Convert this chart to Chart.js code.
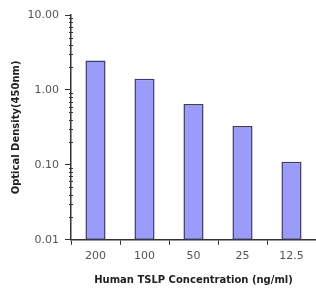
<!DOCTYPE html>
<html>
<head>
<meta charset="utf-8">
<script src="https://cdn.jsdelivr.net/npm/chart.js@4"></script>
<style>
  html, body { margin: 0; padding: 0; background: #fff; }
  #wrap { width: 316px; height: 289px; }
</style>
</head>
<body>
<div id="wrap"><canvas id="myChart" width="316" height="289"></canvas></div>
<script>
// datos
const concentraciones = ["200", "100", "50", "25", "12.5"];
const densidad = [2.47, 1.41, 0.65, 0.33, 0.11];
const ticksMayores = [0.01, 0.1, 1, 10];
const yMin = 0.01;
const yMax = 10;

// marcas menores del eje logarítmico (2..9 en cada década)
const marcasMenores = {
  id: "marcasMenores",
  afterDraw(chart) {
    const y = chart.scales.y;
    const c = chart.ctx;
    c.save();
    c.strokeStyle = "#333";
    c.lineWidth = 1;
    for (let i = 0; i < ticksMayores.length - 1; i++) {
      for (let k = 2; k <= 9; k++) {
        const v = ticksMayores[i] * k;
        const py = Math.round(y.getPixelForValue(v)) + 0.5;
        c.beginPath();
        c.moveTo(y.right - 2, py);
        c.lineTo(y.right + 2, py);
        c.stroke();
      }
    }
    c.restore();
  }
};

const ctx = document.getElementById("myChart");

const chart = new Chart(ctx, {
  type: "bar",
  data: {
    labels: concentraciones,
    datasets: [{
      data: densidad,
      backgroundColor: "rgb(155,155,250)",
      borderColor: "#3c3c66",
      borderWidth: 1.5,
      borderSkipped: false,
      barPercentage: 0.41,
      categoryPercentage: 1
    }]
  },
  options: {
    responsive: false,
    animation: false,
    layout: { padding: { left: 4, top: 15, right: 0, bottom: 3 } },
    plugins: { legend: { display: false }, tooltip: { enabled: false } },
    scales: {
      x: {
        offset: true,
        grid: { drawOnChartArea: false, offset: true, tickLength: 5, color: "#333" },
        border: { color: "#333", width: 1.5 },
        ticks: { color: "#555", font: { family: "DejaVu Sans", size: 11 }, padding: 5 },
        title: {
          display: true,
          text: "Human TSLP Concentration (ng/ml)",
          color: "#222",
          font: { family: "DejaVu Sans", size: 10, weight: "bold" },
          padding: { top: 6, bottom: 0 }
        }
      },
      y: {
        type: "logarithmic",
        min: yMin,
        max: yMax,
        afterBuildTicks: function (scale) {
          scale.ticks = ticksMayores.map(v => ({ value: v, major: true }));
        },
        grid: { drawOnChartArea: false, tickLength: 6, color: "#333" },
        border: { color: "#333", width: 1.5 },
        ticks: {
          autoSkip: false,
          color: "#555",
          font: { family: "DejaVu Sans", size: 11 },
          padding: 6,
          callback: function (v) {
            return Number(v).toFixed(2);
          }
        },
        title: {
          display: true,
          text: "Optical Density(450nm)",
          color: "#222",
          font: { family: "DejaVu Sans", size: 10, weight: "bold" },
          padding: { top: 6, bottom: 4 }
        },
        afterFit: function (scale) {
          scale.width = 67;
        }
      }
    }
  },
  plugins: [marcasMenores]
});
</script>
</body>
</html>
